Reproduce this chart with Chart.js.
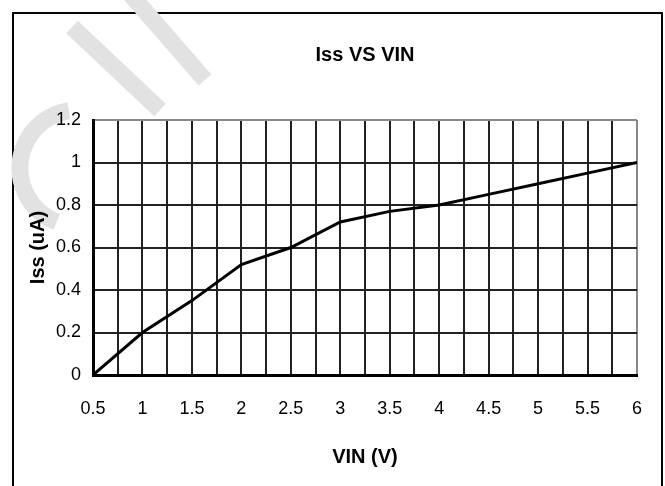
<!DOCTYPE html>
<html>
<head>
<meta charset="utf-8">
<script src="https://cdn.jsdelivr.net/npm/chart.js@4"></script>
<style>
  html, body { margin: 0; padding: 0; background: #fff; }
  #wrap { position: relative; width: 665px; height: 486px; overflow: hidden; }
  #frame { position: absolute; left: 12px; top: 12px; width: 651px; height: 520px; border: 2px solid #000; box-sizing: border-box; }
  #myChart { position: absolute; left: 0; top: 0; }
</style>
</head>
<body>
<div id="wrap">
  <div id="frame"></div>
  <canvas id="myChart" width="665" height="486"></canvas>
</div>
<script>
// Iss vs VIN readings
const vin = [0.5, 1, 1.5, 2, 2.5, 3, 3.5, 4, 4.5, 5, 5.5, 6];
const iss = [0, 0.2, 0.35, 0.52, 0.6, 0.72, 0.77, 0.8, 0.85, 0.9, 0.95, 1.0];

const narrow = "'Liberation Sans Narrow', 'Liberation Sans', Arial, sans-serif";

const points = vin.map((v, i) => ({ x: v, y: iss[i] }));

// faint grey watermark strokes behind the chart
const watermark = {
  id: 'watermark',
  beforeDraw(chart) {
    const c = chart.ctx;
    c.save();
    c.strokeStyle = '#e2e2e2';
    c.lineWidth = 17;
    c.lineCap = 'butt';
    c.beginPath();
    c.moveTo(131, -5);
    c.lineTo(205, 80);
    c.stroke();
    c.beginPath();
    c.moveTo(72, 27);
    c.lineTo(160, 110);
    c.stroke();
    c.beginPath();
    c.arc(78, 168, 58, Math.PI * 0.62, Math.PI * 1.45);
    c.stroke();
    c.restore();
  }
};

const config = {
  type: 'line',
  data: {
    datasets: [{
      label: 'Iss',
      data: points,
      borderColor: '#000',
      borderWidth: 3,
      pointRadius: 0,
      tension: 0,
      fill: false
    }]
  },
  options: {
    responsive: false,
    animation: false,
    layout: { padding: { left: 14, right: 26, top: 10, bottom: 12 } },
    plugins: {
      legend: { display: false },
      tooltip: { enabled: false },
      title: {
        display: true,
        text: 'Iss VS VIN',
        fullSize: false,
        color: '#000',
        font: { family: narrow, size: 20, weight: 'bold' },
        padding: { top: 33, bottom: 53 }
      }
    },
    scales: {
      x: {
        type: 'linear',
        min: 0.5,
        max: 6,
        afterFit: s => { s.height = 99; },
        border: { color: '#000', width: 3 },
        grid: {
          drawTicks: false,
          lineWidth: 2,
          color: ctx => (ctx.tick && ctx.tick.value === 6) ? '#888' : '#222'
        },
        ticks: {
          stepSize: 0.25,
          autoSkip: false,
          maxRotation: 0,
          padding: 23,
          color: '#000',
          font: { family: narrow, size: 18 },
          callback: v => (Math.round(v * 100) % 50 === 0) ? String(Math.round(v * 10) / 10) : ''
        },
        title: {
          display: true,
          text: 'VIN (V)',
          color: '#000',
          font: { family: narrow, size: 20, weight: 'bold' },
          padding: { top: 22, bottom: 5 }
        }
      },
      y: {
        min: 0,
        max: 1.2,
        afterFit: s => { s.width = 79; },
        border: { color: '#000', width: 3 },
        grid: {
          drawTicks: false,
          lineWidth: 2,
          color: ctx => (ctx.tick && Math.abs(ctx.tick.value - 1.2) < 1e-6) ? '#888' : '#222'
        },
        ticks: {
          stepSize: 0.2,
          padding: 12,
          color: '#000',
          font: { family: narrow, size: 18 },
          callback: v => String(Math.round(v * 10) / 10)
        },
        title: {
          display: true,
          text: 'Iss (uA)',
          color: '#000',
          font: { family: "'Liberation Sans', Arial, sans-serif", size: 20, weight: 'bold' },
          padding: { top: 12, bottom: 4 }
        }
      }
    }
  },
  plugins: [watermark]
};

const myChart = new Chart(document.getElementById('myChart'), config);
</script>
</body>
</html>
